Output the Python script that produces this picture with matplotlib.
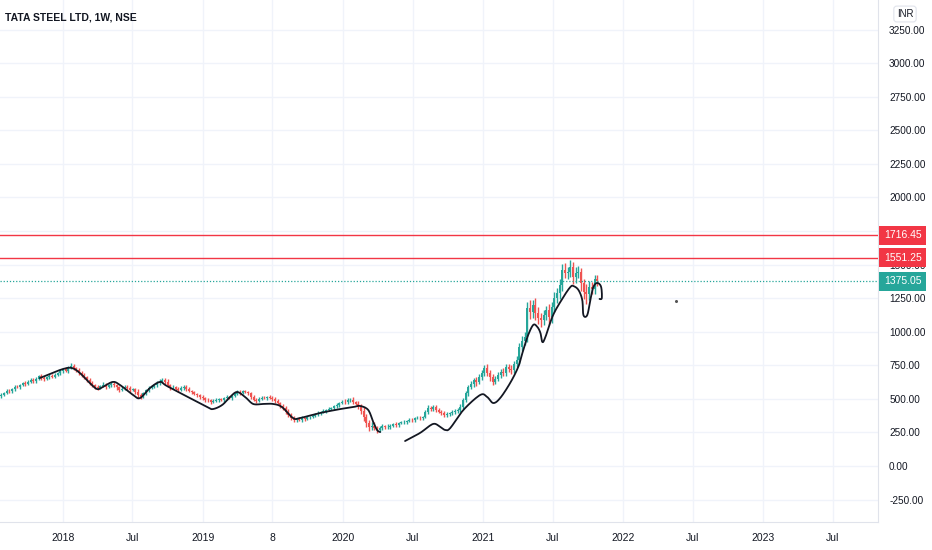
import numpy as np
import pandas as pd
import matplotlib
matplotlib.use("Agg")
import matplotlib.pyplot as plt
import matplotlib.dates as mdates
import matplotlib.transforms as mtransforms

# ---------------- data ----------------
title = "TATA STEEL LTD, 1W, NSE"
start_date = "2017-07-24"
first_open = 520

closes = [
    530, 545, 560, 555, 575, 590, 585, 600, 615, 610,
    628, 640, 632, 650, 668, 655, 645, 660, 672, 665,
    680, 690, 705, 720, 710, 735, 745, 730, 715, 695,
    675, 660, 640, 618, 600, 590, 580, 595, 605, 590,
    600, 612, 605, 585, 566, 575, 590, 580, 565, 570,
    550, 530, 515, 540, 565, 580, 590, 600, 615, 628,
    640, 625, 600, 585, 590, 575, 566, 580, 590, 575,
    560, 548, 535, 525, 514, 505, 495, 488, 477, 485,
    492, 498, 490, 505, 512, 506, 520, 535, 551, 545,
    555, 550, 540, 515, 495, 485, 500, 510, 505, 515,
    508, 500, 485, 469, 450, 432, 405, 380, 360, 343,
    350, 345, 357, 350, 362, 365, 375, 385, 395, 402,
    410, 418, 425, 432, 445, 455, 469, 480, 475, 491,
    495, 477, 465, 439, 410, 365, 320, 290, 300, 283,
    270, 285, 295, 290, 290, 300, 310, 305, 320, 325,
    328, 335, 345, 340, 357, 360, 355, 365, 400, 432,
    425, 439, 417, 405, 395, 380, 385, 395, 400, 410,
    417, 440, 491, 540, 588, 610, 640, 625, 663, 690,
    730, 693, 660, 626, 650, 678, 700, 690, 737, 725,
    715, 760, 789, 886, 930, 961, 1177, 1150, 1199, 1139,
    1102, 1090, 1124, 1162, 1110, 1184, 1251, 1288, 1350, 1460,
    1440, 1445, 1480, 1407, 1437, 1445, 1360, 1296, 1280, 1333,
    1320, 1390, 1375,
]

up_wick = [
    10, 8, 12, 15, 8, 10, 14, 9, 12, 18,
    9, 15, 12, 10, 8, 16, 12, 9, 14, 10,
    12, 9, 15, 10, 18, 12, 20, 14, 10, 16,
    12, 18, 10, 14, 12, 9, 15, 11, 20, 13,
    10, 16, 12, 9, 14, 18, 10, 12, 15, 8,
    14, 20, 12, 9, 10, 15, 12, 8, 16, 18,
    15, 12, 20, 10, 14, 9, 12, 16, 10, 13,
    12, 9, 14, 10, 8, 12, 10, 15, 9, 11,
    13, 10, 12, 8, 15, 11, 9, 14, 18, 12,
    10, 14, 12, 9, 15, 11, 16, 10, 12, 9,
    14, 10, 12, 16, 9, 14, 18, 20, 16, 12,
    10, 15, 12, 9, 14, 10, 12, 8, 13, 10,
    12, 9, 14, 10, 12, 15, 10, 12, 16, 14,
    12, 18, 10, 22, 26, 30, 25, 20, 24, 30,
    18, 16, 15, 12, 20, 14, 12, 16, 10, 12,
    14, 10, 12, 16, 9, 14, 12, 10, 15, 20,
    16, 12, 18, 14, 10, 12, 16, 10, 14, 12,
    15, 20, 18, 22, 16, 20, 18, 25, 20, 22,
    24, 30, 20, 26, 18, 22, 20, 28, 24, 20,
    26, 22, 30, 28, 35, 40, 45, 60, 40, 50,
    48, 40, 36, 30, 45, 38, 42, 36, 40, 44,
    50, 38, 54, 40, 45, 42, 30, 35, 60, 48,
    40, 35, 30,
]

dn_wick = [
    12, 6, 10, 8, 9, 15, 7, 10, 8, 12,
    10, 8, 12, 15, 9, 11, 14, 8, 10, 12,
    9, 12, 10, 14, 11, 16, 10, 12, 18, 14,
    15, 10, 18, 12, 14, 16, 12, 10, 9, 13,
    12, 10, 14, 16, 12, 9, 11, 15, 12, 10,
    16, 20, 14, 10, 9, 12, 8, 10, 12, 9,
    10, 14, 12, 16, 10, 12, 15, 9, 11, 14,
    12, 10, 9, 14, 12, 10, 15, 12, 14, 9,
    10, 12, 9, 14, 11, 10, 12, 9, 10, 13,
    12, 9, 14, 16, 12, 15, 10, 12, 9, 11,
    12, 14, 16, 10, 15, 12, 18, 16, 14, 15,
    12, 10, 14, 12, 9, 11, 10, 12, 9, 14,
    10, 12, 9, 11, 14, 10, 12, 9, 14, 10,
    12, 16, 14, 18, 22, 30, 28, 26, 20, 18,
    22, 16, 14, 18, 12, 15, 10, 14, 12, 10,
    12, 14, 10, 12, 15, 9, 14, 12, 10, 16,
    18, 12, 16, 14, 18, 15, 12, 10, 12, 14,
    12, 14, 16, 18, 20, 15, 22, 30, 18, 20,
    22, 20, 26, 24, 18, 20, 25, 22, 20, 28,
    30, 24, 22, 26, 28, 30, 40, 55, 45, 50,
    48, 55, 40, 38, 60, 42, 36, 40, 45, 50,
    40, 45, 38, 50, 42, 40, 55, 50, 70, 45,
    40, 38, 35,
]

levels = [1716.45, 1551.25]
level_labels = ["1716.45", "1551.25"]
last_price = 1375.05
last_label = "1375.05"

y_ticks = [-250, 0, 250, 500, 750, 1000, 1250, 1500, 1750, 2000,
           2250, 2500, 2750, 3000, 3250]
hidden_y_ticks = [1750]   # covered by the 1716.45 price box
x_tick_dates = ["2018-01-01", "2018-07-01", "2019-01-01", "2019-07-01",
                "2020-01-01", "2020-07-01", "2021-01-01", "2021-07-01",
                "2022-01-01", "2022-07-01", "2023-01-01", "2023-07-01"]
x_tick_labels = ["2018", "Jul", "2019", "8", "2020", "Jul",
                 "2021", "Jul", "2022", "Jul", "2023", "Jul"]

# hand-drawn curve (two strokes)
curve1_dates = ["2017-11-02", "2017-11-28", "2018-01-01", "2018-01-24", "2018-02-14",
                "2018-03-12", "2018-03-31", "2018-04-15", "2018-05-11", "2018-05-30",
                "2018-07-03", "2018-07-21", "2018-08-16", "2018-09-11", "2018-09-29",
                "2018-11-28", "2019-01-12", "2019-01-27", "2019-02-20", "2019-03-13",
                "2019-03-31", "2019-04-21", "2019-05-12", "2019-06-07", "2019-07-03",
                "2019-07-26", "2019-08-24", "2019-09-11", "2019-11-03", "2019-12-25",
                "2020-01-28", "2020-02-15", "2020-03-07", "2020-03-20", "2020-03-30",
                "2020-04-07"]
curve1_prices = [655, 685, 722, 730, 693,
                 618, 573, 588, 626, 603,
                 529, 506, 581, 626, 596,
                 506, 439, 424, 454, 514,
                 551, 514, 462, 462, 462,
                 439, 357, 357, 395, 424,
                 439, 447, 417, 328, 268,
                 253]
curve2_dates = ["2020-06-11", "2020-07-20", "2020-08-23", "2020-09-11", "2020-09-24",
                "2020-10-07", "2020-11-10", "2020-12-24", "2021-01-11", "2021-01-27",
                "2021-02-14", "2021-03-12", "2021-04-02", "2021-04-13", "2021-04-26",
                "2021-05-11", "2021-05-22", "2021-05-30", "2021-06-04", "2021-06-12",
                "2021-07-02", "2021-07-29", "2021-08-16", "2021-08-24", "2021-09-06",
                "2021-09-16", "2021-09-19", "2021-09-29", "2021-10-07", "2021-10-15",
                "2021-10-25", "2021-11-04", "2021-11-06", "2021-10-31"]
curve2_prices = [186, 246, 313, 290, 268,
                 283, 417, 529, 514, 469,
                 506, 618, 737, 842, 961,
                 1050, 1035, 990, 923, 961,
                 1124, 1259, 1333, 1340, 1311,
                 1236, 1124, 1124, 1236, 1333,
                 1363, 1335, 1251, 1244]

dot_date = "2022-05-19"
dot_price = 1229

# ---------------- styling ----------------
GREEN = "#26a69a"
RED = "#ef5350"
LEVEL_RED = "#f23645"
TEXT = "#131722"
GRID = "#f0f3fa"
BORDER = "#e0e3eb"

W, H = 932, 550
fig = plt.figure(figsize=(W / 100, H / 100), dpi=100)
fig.patch.set_facecolor("white")
plot_right = 878
plot_bottom = 522
ax = fig.add_axes([0, (H - plot_bottom) / H, plot_right / W, plot_bottom / H])
ax.set_facecolor("white")

dates = pd.date_range(start_date, periods=len(closes), freq="7D")
x = mdates.date2num(dates)
opens = [first_open] + closes[:-1]
o = np.array(opens, dtype=float)
c = np.array(closes, dtype=float)
highs = np.maximum(o, c) + np.array(up_wick, dtype=float)
lows = np.minimum(o, c) - np.array(dn_wick, dtype=float)
cols = [GREEN if cc >= oo else RED for oo, cc in zip(o, c)]

# grid
for d in x_tick_dates:
    ax.axvline(mdates.date2num(pd.Timestamp(d)), color=GRID, lw=1, zorder=0)
for v in y_ticks:
    ax.axhline(v, color=GRID, lw=1, zorder=0)

ax.vlines(x, lows, highs, colors=cols, lw=1.0, zorder=2)
body_h = np.maximum(np.abs(c - o), 4)
ax.bar(x, body_h, bottom=np.minimum(o, c), width=5.2, color=cols, lw=0, zorder=3)


def smooth(xs, ys, n=10):
    """Catmull-Rom smoothing of a hand-drawn stroke, in roughly isotropic units."""
    sx, sy = 140 / 365.25, 1 / 7.447
    P = np.column_stack([np.asarray(xs) * sx, np.asarray(ys) * sy])
    P = np.vstack([P[0], P, P[-1]])
    out = []
    for i in range(1, len(P) - 2):
        p0, p1, p2, p3 = P[i - 1], P[i], P[i + 1], P[i + 2]
        for t in np.linspace(0, 1, n, endpoint=False):
            t2, t3 = t * t, t * t * t
            pt = 0.5 * ((2 * p1) + (-p0 + p2) * t + (2 * p0 - 5 * p1 + 4 * p2 - p3) * t2
                        + (-p0 + 3 * p1 - 3 * p2 + p3) * t3)
            out.append(pt)
    out.append(P[-2])
    out = np.array(out)
    return out[:, 0] / sx, out[:, 1] / sy


for cd, cp in [(curve1_dates, curve1_prices), (curve2_dates, curve2_prices)]:
    sxs, sys_ = smooth(mdates.date2num(pd.to_datetime(cd)), cp)
    ax.plot(sxs, sys_, color=TEXT, lw=1.3, solid_joinstyle="round",
            solid_capstyle="round", zorder=4)

ax.plot([mdates.date2num(pd.Timestamp(dot_date))], [dot_price], marker="o",
        ms=1.2, color="#555555", lw=0, zorder=4)

# level lines
for lv in levels:
    ax.axhline(lv, color=LEVEL_RED, lw=1.0, zorder=5)
ax.axhline(last_price, color=GREEN, lw=0.9, ls=(0, (1, 1.5)), zorder=5)

# limits
ax.set_xlim(mdates.date2num(pd.Timestamp("2017-07-21")),
            mdates.date2num(pd.Timestamp("2023-10-27")))
ax.set_ylim(-417, 3470)

# axes/ticks
for s in ["top", "left"]:
    ax.spines[s].set_visible(False)
ax.spines["right"].set_color(BORDER)
ax.spines["bottom"].set_color(BORDER)
ax.yaxis.tick_right()
ax.set_yticks(y_ticks)
ax.set_yticklabels(["" if v in hidden_y_ticks else f"{v:.2f}" for v in y_ticks])
ax.tick_params(axis="y", length=0, pad=8, labelsize=7.2, labelcolor=TEXT)
for lab in ax.get_yticklabels():
    lab.set_fontfamily("Liberation Sans")
ax.set_xticks([mdates.date2num(pd.Timestamp(d)) for d in x_tick_dates])
ax.set_xticklabels(x_tick_labels)
ax.tick_params(axis="x", length=0, pad=8, labelsize=7.5, labelcolor=TEXT)
for lab in ax.get_xticklabels():
    lab.set_fontfamily("Liberation Sans")

# price boxes on the right scale
bt = mtransforms.blended_transform_factory(fig.transFigure, ax.transData)
for lv, lbl in zip(levels, level_labels):
    ax.text(884 / W, lv, lbl, transform=bt, ha="left", va="center",
            color="white", fontsize=7.5, family="Liberation Sans", zorder=20,
            clip_on=False,
            bbox=dict(boxstyle="square,pad=0.45", fc=LEVEL_RED, ec="none"))
ax.text(884 / W, last_price, last_label, transform=bt, ha="left", va="center",
        color="white", fontsize=7.5, family="Liberation Sans", zorder=20,
        clip_on=False,
        bbox=dict(boxstyle="square,pad=0.45", fc=GREEN, ec="none"))

# INR badge and title
fig.text(905 / W, 1 - 14 / H, "INR", ha="center", va="center", fontsize=7,
         family="Liberation Sans", color=TEXT,
         bbox=dict(boxstyle="round,pad=0.3,rounding_size=0.3", fc="white", ec=BORDER, lw=0.8))
fig.text(5 / W, 1 - 17 / H, title, ha="left", va="center", fontsize=7.5,
         fontweight="bold", family="Liberation Sans", color=TEXT)

fig.savefig("out.png", dpi=100, facecolor="white")
